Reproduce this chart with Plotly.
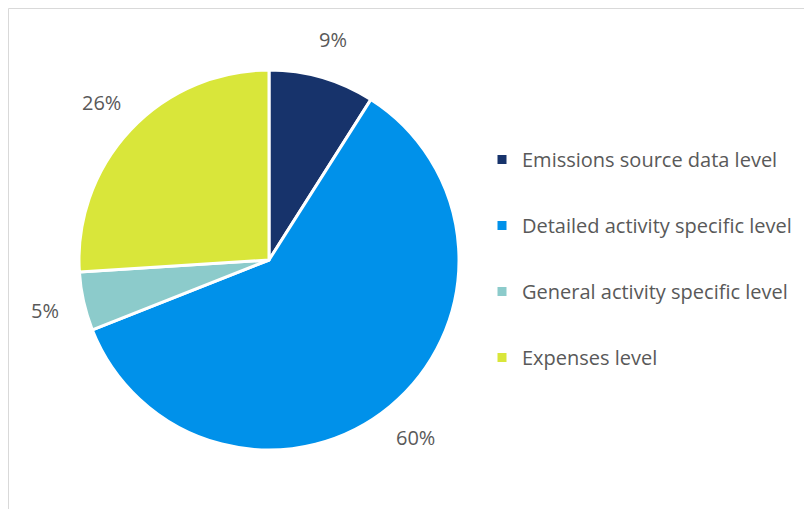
import math
import plotly.graph_objects as go

# ── data ──────────────────────────────────────────────────────────────────────
categories = [
    "Emissions source data level",
    "Detailed activity specific level",
    "General activity specific level",
    "Expenses level",
]
shares = [9, 60, 5, 26]
colors = ["#17336B", "#0091EA", "#8CCBCB", "#D9E63A"]

# ── layout constants (pixels, page coordinates) ───────────────────────────────
W, H = 812, 509
OFF = 8                     # page body margin
CX, CY, R = 269 - OFF, 260 - OFF, 190
LABEL_R = 230
FONT = "'Open Sans', 'Liberation Sans', sans-serif"
TEXT_COLOR = "#595959"

fig = go.Figure()

fig.add_trace(go.Pie(
    labels=categories, values=shares,
    marker=dict(colors=colors, line=dict(color="white", width=3)),
    sort=False, direction="clockwise", rotation=0,
    textinfo="none", hoverinfo="label+percent",
    showlegend=False,
    domain=dict(x=[(CX - R) / W, (CX + R) / W],
                y=[(H - CY - R) / H, (H - CY + R) / H]),
))

# legend entries as square markers (one group each so they can be spaced)
for name, col in zip(categories, colors):
    fig.add_trace(go.Scatter(
        x=[None], y=[None], mode="markers", name=name,
        marker=dict(symbol="square", size=9, color=col),
        legendgroup=name, showlegend=True,
    ))

# percentage labels outside slices
total = sum(shares)
cum = 0
for v in shares:
    mid = (cum + v / 2) / total * 2 * math.pi
    cum += v
    lx = CX + LABEL_R * math.sin(mid)
    ly = CY - LABEL_R * math.cos(mid)
    fig.add_annotation(
        x=lx / W, y=(H - ly) / H, xref="paper", yref="paper",
        xanchor="center", yanchor="middle",
        text=f"{round(v / total * 100)}%", showarrow=False,
        font=dict(size=20, color=TEXT_COLOR, family=FONT),
    )

# chart border (partly outside the view)
fig.add_shape(type="rect", xref="paper", yref="paper",
              x0=0.5 / W, x1=1.05, y0=-0.05, y1=(H - 0.5) / H,
              line=dict(color="#D9D9D9", width=1))

fig.update_layout(
    width=W, height=H,
    margin=dict(l=0, r=0, t=0, b=0),
    paper_bgcolor="white", plot_bgcolor="white",
    font=dict(family=FONT, color=TEXT_COLOR, size=20),
    xaxis=dict(visible=False), yaxis=dict(visible=False),
    legend=dict(x=474 / W, y=(H - 132) / H, xanchor="left", yanchor="top",
                tracegroupgap=37, font=dict(size=20, color=TEXT_COLOR),
                bgcolor="rgba(0,0,0,0)"),
)

fig.write_html("out.html")
